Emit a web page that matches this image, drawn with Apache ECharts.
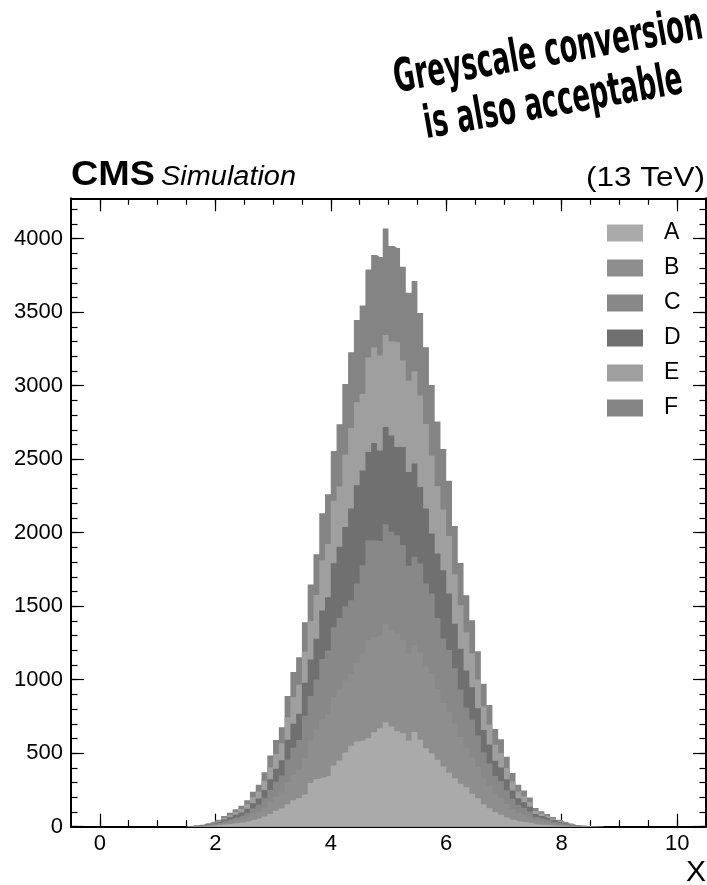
<!DOCTYPE html>
<html><head><meta charset="utf-8">
<script src="https://cdn.jsdelivr.net/npm/echarts@6/dist/echarts.min.js"></script>
<style>html,body{margin:0;padding:0;background:#fff}#chart{width:707px;height:885px}</style>
</head><body><div id="chart"></div>
<script>
// Bin centres (bin width 0.1)
const binCenters = [1.55,1.65,1.75,1.85,1.95,2.05,2.15,2.25,2.35,2.45,2.55,2.65,2.75,2.85,2.95,
  3.05,3.15,3.25,3.35,3.45,3.55,3.65,3.75,3.85,3.95,4.05,4.15,4.25,4.35,4.45,4.55,4.65,4.75,4.85,4.95,
  5.05,5.15,5.25,5.35,5.45,5.55,5.65,5.75,5.85,5.95,6.05,6.15,6.25,6.35,6.45,6.55,6.65,6.75,6.85,6.95,
  7.05,7.15,7.25,7.35,7.45,7.55,7.65,7.75,7.85,7.95,8.05,8.15,8.25,8.35,8.45,8.55,8.65];

const seriesA = [1,2,3,5,7,10,15,19,24,28,36,46,55,70,87,108,123,153,180,195,219,297,324,335,345,417,451,505,550,580,586,602,643,670,711,681,650,636,586,645,591,534,500,455,410,367,330,293,268,224,193,153,126,100,82,62,48,36,32,26,17,14,12,9,7,5,3,2,1,1,1,0];
const seriesB = [1,2,2,4,5,8,11,15,19,23,28,38,46,60,80,95,110,146,172,190,246,290,332,398,420,465,480,490,488,532,590,668,648,632,668,657,661,634,590,591,594,556,540,480,432,415,372,318,269,250,212,175,151,121,112,92,70,55,47,37,24,20,16,12,9,6,4,2,2,1,0,1];
const seriesC = [1,1,3,4,6,8,12,16,20,24,31,40,48,63,83,102,116,156,185,205,290,303,345,408,434,475,489,505,503,543,603,679,658,642,679,668,672,645,599,600,605,565,547,485,439,420,376,322,273,253,215,178,153,124,115,94,72,57,49,40,25,21,17,13,9,7,4,2,1,1,1,0];
const seriesD = [0,1,2,4,5,7,11,14,18,21,27,36,43,57,73,90,103,136,163,178,225,247,278,330,362,436,484,539,623,668,645,600,661,616,661,656,600,668,638,634,521,509,407,438,464,385,302,278,252,221,185,151,129,103,93,74,57,45,38,32,20,17,14,11,7,5,3,2,1,0,0,0];
const seriesE = [1,2,2,4,6,8,12,16,19,24,30,40,48,62,82,100,115,152,180,197,210,263,297,341,362,424,410,491,548,565,521,645,652,645,626,640,713,588,622,629,622,576,530,458,413,390,338,296,260,232,197,160,136,109,98,78,60,47,41,33,21,17,15,11,8,6,4,2,2,1,1,0];
const seriesF = [1,1,2,3,5,7,11,15,19,22,28,38,45,58,79,95,110,146,173,188,201,248,278,320,339,339,424,481,516,559,600,597,627,671,724,648,641,639,597,613,562,522,481,441,411,377,327,287,252,225,191,156,133,107,95,76,58,45,39,30,20,16,13,10,7,5,3,2,1,1,0,1];

const seriesNames = ['A','B','C','D','E','F'];
const seriesColors = ['#aaaaaa','#8e8e8e','#888888','#707070','#9f9f9f','#848484'];

const xMajorTicks = [0,2,4,6,8,10];
const xMinorTicks = [0,0.5,1,1.5,2,2.5,3,3.5,4,4.5,5,5.5,6,6.5,7,7.5,8,8.5,9,9.5,10];
const yMajorTicks = [0,500,1000,1500,2000,2500,3000,3500,4000];
const yMinorTicks = [0,100,200,300,400,500,600,700,800,900,1000,1100,1200,1300,1400,1500,1600,1700,1800,1900,2000,
  2100,2200,2300,2400,2500,2600,2700,2800,2900,3000,3100,3200,3300,3400,3500,3600,3700,3800,3900,4000,4100,4200];

const X_MIN = -0.5, X_MAX = 10.5, Y_MIN = 0, Y_MAX = 4275;
const FONT = '"Liberation Sans", Arial, Helvetica, sans-serif';
const TITLE_FONT = '"Liberation Sans Narrow", "DejaVu Sans Condensed", "Liberation Sans", sans-serif';

const chart = echarts.init(document.getElementById('chart'), null, {renderer: 'canvas'});

const allSeries = [seriesA, seriesB, seriesC, seriesD, seriesE, seriesF];
const binW = binCenters[1] - binCenters[0];

// Cumulative stack tops (A, A+B, ..., A+..+F); drawn top-most total first so lower layers cover it.
const cumulative = [];
allSeries.forEach((vals, i) => {
  cumulative.push(vals.map((v, j) => v + (i > 0 ? cumulative[i - 1][j] : 0)));
});

const series = [];
for (let i = allSeries.length - 1; i >= 0; i--) {
  const vals = cumulative[i];
  const data = [[binCenters[0] - binW, 0]];
  binCenters.forEach((x, j) => data.push([x, vals[j]]));
  data.push([binCenters[binCenters.length - 1] + binW, 0]);
  series.push({
    name: seriesNames[i],
    type: 'line',
    step: 'middle',
    symbol: 'none',
    showSymbol: false,
    color: seriesColors[i],
    lineStyle: {width: 0, color: seriesColors[i]},
    areaStyle: {color: seriesColors[i], opacity: 1, origin: 'start'},
    emphasis: {disabled: true},
    silent: true,
    data: data
  });
}

function xAxisDef(position, ticks, len, showLine, showLabel) {
  return {
    type: 'value', min: X_MIN, max: X_MAX, position: position,
    axisLine: {show: showLine, onZero: false, lineStyle: {color: '#000', width: 2}},
    axisTick: {show: true, inside: true, length: len, customValues: ticks, lineStyle: {color: '#000', width: 1.2}},
    axisLabel: {show: showLabel, customValues: ticks, margin: 6, color: '#000', fontSize: 22, fontFamily: FONT,
      formatter: v => String(v)},
    splitLine: {show: false}, minorTick: {show: false}, minorSplitLine: {show: false}
  };
}
function yAxisDef(position, ticks, len, showLine, showLabel) {
  return {
    type: 'value', min: Y_MIN, max: Y_MAX, position: position,
    axisLine: {show: showLine, onZero: false, lineStyle: {color: '#000', width: 2}},
    axisTick: {show: true, inside: true, length: len, customValues: ticks, lineStyle: {color: '#000', width: 1.2}},
    axisLabel: {show: showLabel, customValues: ticks, margin: 8, color: '#000', fontSize: 22, fontFamily: FONT,
      formatter: v => String(v)},
    splitLine: {show: false}, minorTick: {show: false}, minorSplitLine: {show: false}
  };
}

function measure(text, font) {
  const ctx = document.createElement('canvas').getContext('2d');
  ctx.font = font;
  return ctx.measureText(text).width;
}
const titleSize = 46;
const line1 = 'Greyscale conversion', line2 = 'is also acceptable';
const w1 = measure(line1, 'bold ' + titleSize + 'px ' + TITLE_FONT);
const titleScale = 313 / w1;
const rot = 10 * Math.PI / 180;
const up = 0.3465 * titleSize;
const l1x = 551 - Math.sin(rot) * up, l1y = 69 - Math.cos(rot) * up;
const l2x = 556 - Math.sin(rot) * up, l2y = 119.5 - Math.cos(rot) * up;

const cmsScale = 84 / measure('CMS', 'bold 35px ' + FONT);
const simScale = 135 / measure('Simulation', 'italic 27px ' + FONT);
const tevScale = 119 / measure('(13 TeV)', '28px ' + FONT);

function txt(x, y, text, opts) {
  return Object.assign({
    type: 'text', x: x, y: y, silent: true,
    style: Object.assign({text: text, fill: '#000', fontFamily: FONT}, opts.style)
  }, opts.el || {});
}

const option = {
  backgroundColor: '#fff',
  animation: false,
  grid: {left: 71, right: 1, top: 198.3, bottom: 58.3, containLabel: false, outerBoundsMode: 'none'},
  xAxis: [
    xAxisDef('bottom', xMajorTicks, 13, true, true),
    xAxisDef('bottom', xMinorTicks, 6.5, false, false),
    xAxisDef('top', xMajorTicks, 13, true, false),
    xAxisDef('top', xMinorTicks, 6.5, false, false)
  ],
  yAxis: [
    yAxisDef('left', yMajorTicks, 13, true, true),
    yAxisDef('left', yMinorTicks, 6.5, false, false),
    yAxisDef('right', yMajorTicks, 13, true, false),
    yAxisDef('right', yMinorTicks, 6.5, false, false)
  ],
  legend: {
    data: seriesNames,
    orient: 'vertical',
    left: 607, top: 221.5,
    padding: 0,
    itemWidth: 36, itemHeight: 17, itemGap: 12,
    icon: 'rect',
    selectedMode: false,
    itemStyle: {borderWidth: 0},
    textStyle: {fontSize: 23, color: '#000', fontFamily: FONT, padding: [0, 0, 0, 16]}
  },
  graphic: [
    txt(71, 175.5, 'CMS', {style: {fontSize: 35, fontWeight: 'bold', align: 'left', verticalAlign: 'middle', textAlign: 'left', textVerticalAlign: 'middle'},
      el: {scaleX: cmsScale}}),
    txt(161, 177.5, 'Simulation', {style: {fontSize: 27, fontStyle: 'italic', align: 'left', verticalAlign: 'middle', textAlign: 'left', textVerticalAlign: 'middle'},
      el: {scaleX: simScale}}),
    txt(705, 177.8, '(13 TeV)', {style: {fontSize: 28, align: 'right', verticalAlign: 'middle', textAlign: 'right', textVerticalAlign: 'middle'},
      el: {scaleX: tevScale}}),
    txt(706, 873, 'X', {style: {fontSize: 30, align: 'right', verticalAlign: 'middle', textAlign: 'right', textVerticalAlign: 'middle'}}),
    txt(l1x, l1y, line1, {style: {fontSize: titleSize, fontWeight: 'bold', fontFamily: TITLE_FONT, align: 'center', verticalAlign: 'middle', textAlign: 'center', textVerticalAlign: 'middle'},
      el: {rotation: rot, scaleX: titleScale, scaleY: 1}}),
    txt(l2x, l2y, line2, {style: {fontSize: titleSize, fontWeight: 'bold', fontFamily: TITLE_FONT, align: 'center', verticalAlign: 'middle', textAlign: 'center', textVerticalAlign: 'middle'},
      el: {rotation: rot, scaleX: titleScale, scaleY: 1}})
  ],
  series: series
};
chart.setOption(option);
</script>
</body></html>
